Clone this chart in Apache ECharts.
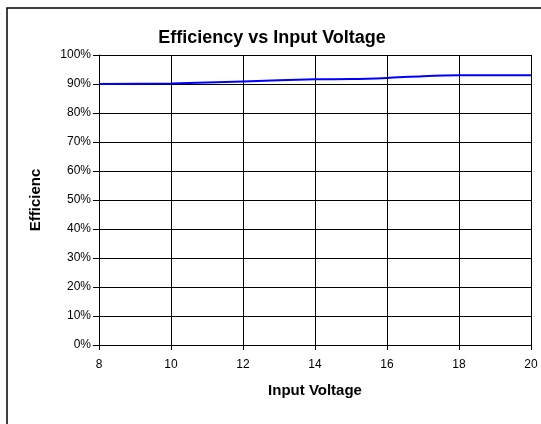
<!DOCTYPE html>
<html>
<head>
<meta charset="utf-8">
<script src="https://cdn.jsdelivr.net/npm/echarts@6/dist/echarts.min.js"></script>
<style>
  html, body { margin: 0; padding: 0; background: #fff; }
  #chart { width: 541px; height: 424px; }
</style>
</head>
<body>
<div id="chart"></div>
<script>
// input voltage (V) and efficiency (%)
const voltages = [8, 10, 12, 14, 15, 16, 17, 18, 20]
const efficiency = [90.0, 90.2, 90.9, 91.6, 91.7, 92.1, 92.7, 93.0, 93.0]
const yTicks = [0, 10, 20, 30, 40, 50, 60, 70, 80, 90, 100]

const chart = echarts.init(document.getElementById('chart'))

const option = {
  backgroundColor: '#fff',
  animation: false,
  title: {
    text: 'Efficiency vs Input Voltage',
    left: 267,
    textAlign: 'center',
    top: 24,
    textStyle: { fontFamily: 'Liberation Sans', fontSize: 18, fontWeight: 'bold', color: '#000' },
  },
  graphic: [
    {
      type: 'rect',
      shape: { x: 7, y: 8, width: 700, height: 700 },
      style: { fill: 'none', stroke: '#000', lineWidth: 1.5 },
      silent: true,
    },
  ],
  grid: { left: 99, right: 10, top: 55, bottom: 79 },
  xAxis: {
    type: 'value',
    min: 8,
    max: 20,
    interval: 2,
    name: 'Input Voltage',
    nameLocation: 'middle',
    nameGap: 38,
    nameTextStyle: { fontFamily: 'Liberation Sans', fontSize: 15, fontWeight: 'bold', color: '#000' },
    axisLine: { lineStyle: { color: '#000', width: 1 } },
    axisTick: { show: true, length: 5, lineStyle: { color: '#000' } },
    axisLabel: { fontFamily: 'Liberation Sans', fontSize: 12, color: '#000', margin: 14 },
    splitLine: { show: true, lineStyle: { color: '#000', width: 1 } },
  },
  yAxis: {
    type: 'value',
    min: yTicks[0],
    max: yTicks[yTicks.length - 1],
    interval: 10,
    name: 'Efficienc',
    nameLocation: 'middle',
    nameGap: 56,
    nameRotate: 90,
    nameTextStyle: { fontFamily: 'Liberation Sans', fontSize: 15, fontWeight: 'bold', color: '#000' },
    axisLine: { show: true, lineStyle: { color: '#000', width: 1 } },
    axisTick: { show: true, length: 6, lineStyle: { color: '#000' } },
    axisLabel: { fontFamily: 'Liberation Sans', fontSize: 12, color: '#000', margin: 8, formatter: '{value}%' },
    splitLine: { show: true, lineStyle: { color: '#000', width: 1 } },
  },
  series: [
    {
      type: 'line',
      data: voltages.map((v, i) => [v, efficiency[i]]),
      smooth: 0.3,
      showSymbol: false,
      lineStyle: { color: '#0000ff', width: 2 },
      itemStyle: { color: '#0000ff' },
    },
  ],
}

chart.setOption(option)
</script>
</body>
</html>
